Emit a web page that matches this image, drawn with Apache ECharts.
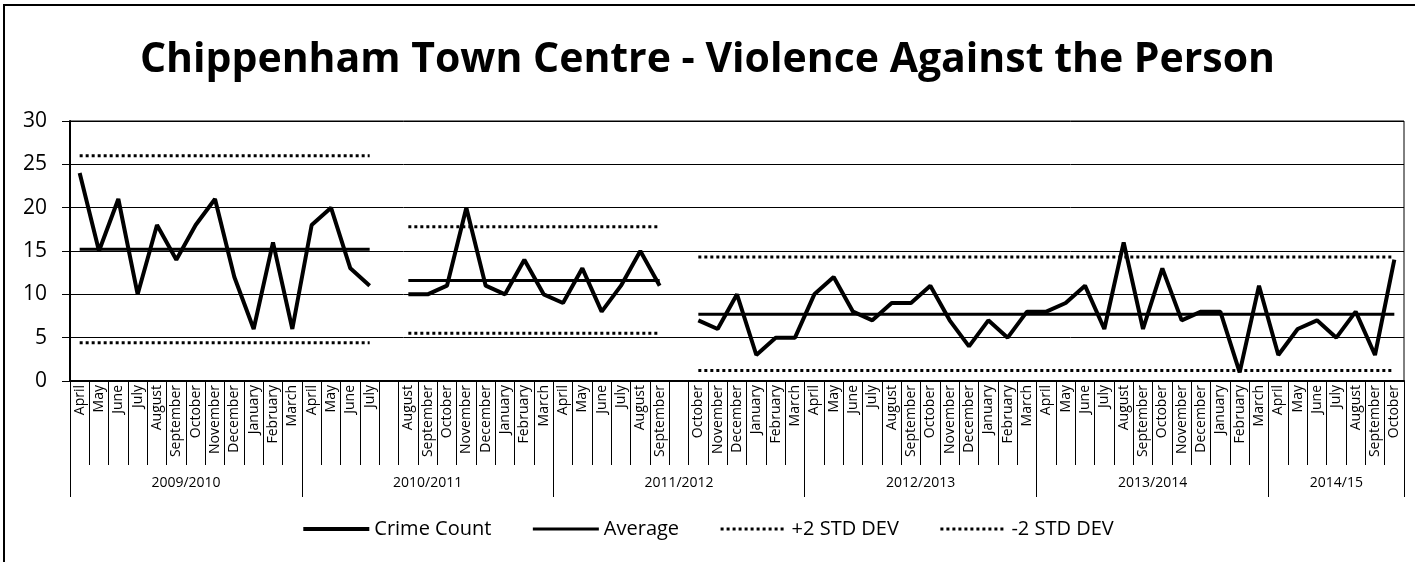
<!DOCTYPE html>
<html><head><meta charset="utf-8">
<script src="https://cdn.jsdelivr.net/npm/echarts@6/dist/echarts.min.js"></script>
<style>
html,body{margin:0;padding:0;background:#fff;overflow:hidden}
#frame{position:absolute;left:3px;top:4px;width:1430px;height:580px;border-left:2px solid #000;border-top:2px solid #000}
#c{position:absolute;left:0;top:0;width:1415px;height:562px}
</style>
</head><body><div id="frame"></div><div id="c"></div>
<script>
const months = ['April','May','June','July','August','September','October','November','December','January','February','March',
  'April','May','June','July','',
  'August','September','October','November','December','January','February','March',
  'April','May','June','July','August','September','',
  'October','November','December','January','February','March',
  'April','May','June','July','August','September','October','November','December','January','February','March',
  'April','May','June','July','August','September','October','November','December','January','February','March',
  'April','May','June','July','August','September','October'];
const crimeCount = [24,15,21,10,18,14,18,21,12,6,16,6,
  18,20,13,11,null,
  10,10,11,20,11,10,14,10,
  9,13,8,11,15,11,null,
  7,6,10,3,5,5,
  10,12,8,7,9,9,11,7,4,7,5,8,
  8,9,11,6,16,6,13,7,8,8,1,11,
  3,6,7,5,8,3,14];
const segments = [[0,15],[17,30],[32,68]];
const averages = [15.2, 11.6, 7.7];
const upper2sd = [26.0, 17.8, 14.3];
const lower2sd = [4.4, 5.5, 1.2];
const yearLabels = ['2009/2010','2010/2011','2011/2012','2012/2013','2013/2014','2014/15'];
const yearBounds = [0,12,25,38,50,62,69];

function segSeries(vals){
  return months.map((m,i)=>{
    for(let s=0;s<segments.length;s++){
      if(i>=segments[s][0] && i<=segments[s][1]) return vals[s];
    }
    return null;
  });
}
const yearCenters = yearLabels.map((l,i)=>(yearBounds[i]+yearBounds[i+1])/2);
const FONT = '"Open Sans", Lato, sans-serif';

const chart = echarts.init(document.getElementById('c'), null, {renderer:'canvas'});
chart.setOption({
  animation:false,
  backgroundColor:'transparent',
  title:{text:'Chippenham Town Centre - Violence Against the Person', left:'center', top:35,
    textStyle:{fontFamily:FONT, fontWeight:'bold', fontSize:41, color:'#000'}},
  grid:{left:70, right:11, top:121, bottom:181, show:true, borderColor:'#000', borderWidth:1, containLabel:false},
  legend:{top:514, left:'center', itemWidth:66, itemHeight:14, itemGap:40,
    itemStyle:{opacity:0},
    textStyle:{fontFamily:FONT, fontSize:20, color:'#000'},
    data:[
      {name:'Crime Count', lineStyle:{width:4}},
      {name:'Average', lineStyle:{width:3}},
      {name:'+2 STD DEV', lineStyle:{width:3}},
      {name:'-2 STD DEV', lineStyle:{width:3}}
    ]},
  xAxis:[{
    type:'category', data:months, boundaryGap:true, position:'bottom',
    axisLine:{show:true, lineStyle:{color:'#000', width:2}},
    axisTick:{show:true, interval:0, length:84, lineStyle:{color:'#000', width:1}},
    axisLabel:{interval:0, rotate:90, margin:4, fontFamily:FONT, fontSize:14, color:'#000'},
    splitLine:{show:false}
  },{
    type:'value', min:0, max:69, position:'bottom',
    axisLine:{show:false},
    axisTick:{show:true, length:116, customValues:yearBounds, lineStyle:{color:'#000', width:1}},
    axisLabel:{show:true, customValues:yearCenters, margin:95, fontFamily:FONT, fontSize:14, color:'#000',
      formatter:(v)=>{const k=yearCenters.indexOf(v); return k>=0?yearLabels[k]:'';}},
    splitLine:{show:false}
  }],
  yAxis:{type:'value', min:0, max:30, interval:5,
    axisLine:{show:true, lineStyle:{color:'#000', width:2}},
    axisTick:{show:true, length:8, lineStyle:{color:'#000'}},
    axisLabel:{margin:23, fontFamily:FONT, fontSize:21, color:'#000'},
    splitLine:{show:true, lineStyle:{color:'#000', width:1}}},
  series:[
    {name:'Crime Count', type:'line', xAxisIndex:0, data:crimeCount, symbol:'none', connectNulls:false,
      lineStyle:{color:'#000', width:4}, itemStyle:{color:'#000'}, z:5},
    {name:'Average', type:'line', xAxisIndex:0, data:segSeries(averages), symbol:'none',
      lineStyle:{color:'#000', width:3}, itemStyle:{color:'#000'}, z:4},
    {name:'+2 STD DEV', type:'line', xAxisIndex:0, data:segSeries(upper2sd), symbol:'none',
      lineStyle:{color:'#000', width:3, type:[3,3]}, itemStyle:{color:'#000'}, z:3},
    {name:'-2 STD DEV', type:'line', xAxisIndex:0, data:segSeries(lower2sd), symbol:'none',
      lineStyle:{color:'#000', width:3, type:[3,3]}, itemStyle:{color:'#000'}, z:3}
  ]
});
</script>
</body></html>
